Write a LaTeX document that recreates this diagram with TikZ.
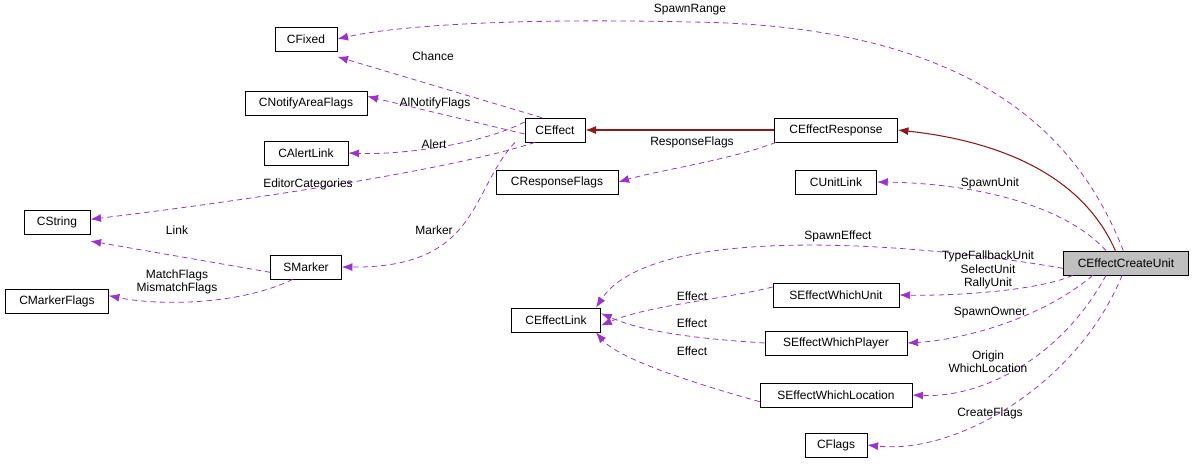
\documentclass[tikz,border=0pt]{standalone}
\usepackage{fontspec}
\setmainfont{Liberation Sans}
\usetikzlibrary{arrows.meta}
\definecolor{dep}{HTML}{9A32CD}
\definecolor{inh}{HTML}{8B1A1A}
\begin{document}
\begin{tikzpicture}[x=0.75pt,y=-0.75pt,
  box/.style={draw,line width=0.6pt,inner sep=0pt,minimum height=18pt,font=\fontsize{9}{10}\selectfont,anchor=center},
  dp/.style={draw=dep,dashed,dash pattern=on 4pt off 3pt,line width=0.6pt,-{Latex[length=8pt,width=6pt]}},
  ih/.style={draw=inh,line width=0.8pt,-{Latex[length=8pt,width=6pt]}},
  lb/.style={font=\fontsize{9}{10}\selectfont,align=center,inner sep=0pt}]
\useasboundingbox (0,0) rectangle (1196,465);
\node[box,minimum width=46.5pt] (fix) at (306,39) {CFixed};
\node[box,minimum width=91.5pt] (naf) at (306,103) {CNotifyAreaFlags};
\node[box,minimum width=63pt] (al) at (306,153) {CAlertLink};
\node[box,minimum width=49.5pt] (str) at (57,222) {CString};
\node[box,minimum width=77pt] (mf) at (57,301) {CMarkerFlags};
\node[box,minimum width=53pt] (sm) at (306,267) {SMarker};
\node[box,minimum width=45pt] (eff) at (555,130) {CEffect};
\node[box,minimum width=91.5pt] (rf) at (557,182) {CResponseFlags};
\node[box,minimum width=92pt] (er) at (836,130) {CEffectResponse};
\node[box,minimum width=61pt] (ul) at (836,182) {CUnitLink};
\node[box,minimum width=67pt] (el) at (556,320) {CEffectLink};
\node[box,minimum width=94.5pt] (wu) at (836,295) {SEffectWhichUnit};
\node[box,minimum width=106.5pt] (wp) at (836,343) {SEffectWhichPlayer};
\node[box,minimum width=114pt] (wl) at (836,395) {SEffectWhichLocation};
\node[box,minimum width=46.5pt] (fl) at (836,445) {CFlags};
\node[box,minimum width=94pt,fill=black!25] (ecu) at (1126,263) {CEffectCreateUnit};

\draw[ih] (er.west) -- (eff.east);
\draw[ih] ([xshift=-8pt]ecu.north) .. controls (1080,170) and (990,140) .. (er.east);

\draw[dp] ([xshift=-2pt]ecu.north) .. controls (1080,140) and (980,25) .. (690,22) .. controls (520,18) and (400,25) .. (fix.east);
\draw[dp] ([xshift=-10pt]eff.north) -- ([yshift=-4pt]fix.south east);
\draw[dp] ([yshift=-3pt]eff.west) -- ([yshift=5pt]naf.east);
\draw[dp] ([yshift=6pt]eff.west) .. controls (480,145) and (400,155) .. (al.east);
\draw[dp] ([xshift=-15pt]eff.south) .. controls (450,170) and (250,200) .. ([yshift=2pt]str.east);
\draw[dp] ([xshift=-30pt]eff.south) .. controls (470,190) and (480,268) .. (sm.east);
\draw[dp] ([yshift=-4pt]sm.west) -- ([yshift=-5pt]str.south east);
\draw[dp] ([xshift=-10pt]sm.south) .. controls (240,305) and (160,306) .. ([yshift=4pt]mf.east);
\draw[dp] ([xshift=-45pt]er.south) .. controls (730,160) and (660,170) .. (rf.east);
\draw[dp] ([xshift=-15pt]ecu.north) .. controls (1060,200) and (960,183) .. (ul.east);
\draw[dp] ([yshift=-4pt]ecu.west) .. controls (900,240) and (650,225) .. ([xshift=30pt]el.north);
\draw[dp] ([yshift=6pt]wu.west) .. controls (720,300) and (650,305) .. ([yshift=-4pt]el.east);
\draw[dp] (wp.west) .. controls (720,340) and (650,335) .. ([yshift=5pt]el.east);
\draw[dp] ([yshift=-5pt]wl.west) .. controls (700,385) and (620,360) .. ([xshift=30pt]el.south);
\draw[dp] ([xshift=-40pt]ecu.south) .. controls (1040,290) and (960,296) .. (wu.east);
\draw[dp] ([xshift=-25pt]ecu.south) .. controls (1040,320) and (960,340) .. (wp.east);
\draw[dp] ([xshift=-15pt]ecu.south) .. controls (1060,360) and (980,398) .. (wl.east);
\draw[dp] ([xshift=-3pt]ecu.south) .. controls (1080,380) and (960,455) .. (fl.east);

\node[lb] at (690,10) {SpawnRange};
\node[lb] at (433,56) {Chance};
\node[lb] at (435,103) {AlNotifyFlags};
\node[lb] at (434,144) {Alert};
\node[lb] at (308,184) {EditorCategories};
\node[lb] at (434,230) {Marker};
\node[lb] at (177,230) {Link};
\node[lb] at (177,282) {MatchFlags\\MismatchFlags};
\node[lb] at (692,142) {ResponseFlags};
\node[lb] at (990,183) {SpawnUnit};
\node[lb] at (838,236) {SpawnEffect};
\node[lb] at (692,296) {Effect};
\node[lb] at (692,323) {Effect};
\node[lb] at (692,351) {Effect};
\node[lb] at (988,270) {TypeFallbackUnit\\SelectUnit\\RallyUnit};
\node[lb] at (990,313) {SpawnOwner};
\node[lb] at (988,362) {Origin\\WhichLocation};
\node[lb] at (990,413) {CreateFlags};
\end{tikzpicture}
\end{document}
